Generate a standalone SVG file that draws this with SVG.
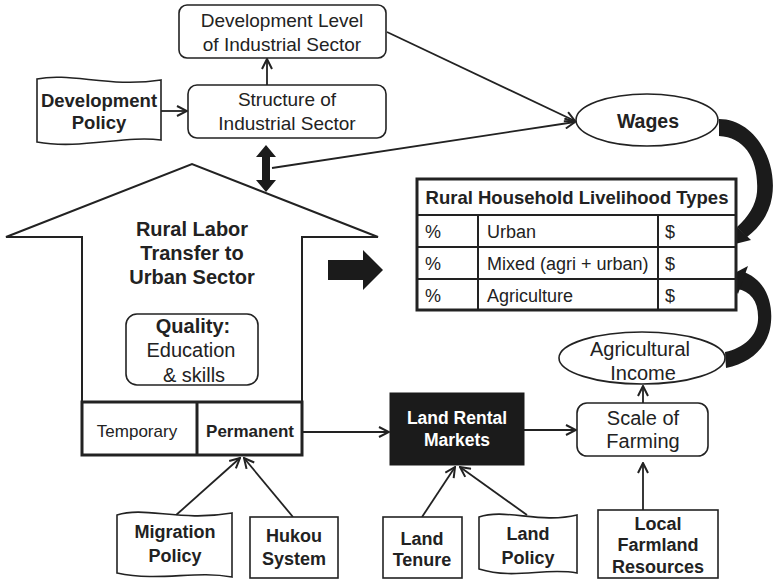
<svg xmlns="http://www.w3.org/2000/svg" width="774" height="580" viewBox="0 0 774 580">
  <defs>
    <style>
      .box { fill: #fff; stroke: #222; stroke-width: 1.6; }
      .thick { fill: #fff; stroke: #222; stroke-width: 3; }
      .line { fill: none; stroke: #222; stroke-width: 1.8; }
      .solid { fill: #1b1b1b; stroke: none; }
      text { font-family: "Liberation Sans", Arial, sans-serif; fill: #222; text-anchor: middle; }
      .reg { font-size: 19px; }
      .b { font-weight: bold; }
      .lbl { font-size: 18px; font-weight: bold; }
    </style>
    <marker id="open" viewBox="0 0 12 12" refX="11" refY="6" markerWidth="12" markerHeight="12" markerUnits="userSpaceOnUse" orient="auto">
      <path d="M1,1 L11,6 L1,11" fill="none" stroke="#222" stroke-width="2"/>
    </marker>
  </defs>

  <!-- connectors -->
  <g id="connectors">
    <line class="line" x1="267" y1="85" x2="267" y2="59" marker-end="url(#open)"/>
    <line class="line" x1="161" y1="111" x2="187" y2="111" marker-end="url(#open)"/>
    <line class="line" x1="387" y1="32" x2="575" y2="121" marker-end="url(#open)"/>
    <line class="line" x1="272" y1="168" x2="575" y2="122" marker-end="url(#open)"/>
    <line class="line" x1="303" y1="432" x2="389" y2="432" marker-end="url(#open)"/>
    <line class="line" x1="524" y1="430" x2="576" y2="430" marker-end="url(#open)"/>
    <line class="line" x1="643" y1="403" x2="643" y2="386" marker-end="url(#open)"/>
    <line class="line" x1="643" y1="510" x2="643" y2="463" marker-end="url(#open)"/>
    <line class="line" x1="175" y1="516" x2="240" y2="458" marker-end="url(#open)"/>
    <line class="line" x1="293" y1="517" x2="244" y2="458" marker-end="url(#open)"/>
    <line class="line" x1="422" y1="517" x2="455" y2="467" marker-end="url(#open)"/>
    <line class="line" x1="527" y1="515" x2="460" y2="467" marker-end="url(#open)"/>
    <!-- double-headed block arrow between industry and labor transfer -->
    <path class="solid" d="M266,145 L276,157 L270,157 L270,180 L276,180 L266,192 L256,180 L262,180 L262,157 L256,157 Z"/>
    <!-- block arrow toward livelihood table -->
    <path class="solid" d="M328,260 L363,260 L363,250 L383,270 L363,290 L363,280 L328,280 Z"/>
    <!-- curved arrow: wages to urban row -->
    <path class="solid" d="M719,119 C754,119 778,160 772,197 C769,215 759,228 747,237 L737,227 C748,217 756,205 757,192 C759,160 745,137 719,136 Z"/>
    <path class="solid" d="M727,246 L732,222 L751,240 Z"/>
    <!-- curved arrow: agricultural income to agriculture row -->
    <path class="solid" d="M741,271 C764,278 773,300 771,322 C769,346 752,363 726,368 L725,352 C744,348 757,336 758,320 C759,302 751,291 737,289 Z"/>
    <path class="solid" d="M727,277 L748,266 L738,294 Z"/>
  </g>

  <g id="dev-level">
    <rect class="box" x="179" y="5" width="207" height="53" rx="8"/>
    <text class="reg" x="282" y="27">Development Level</text>
    <text class="reg" x="282" y="51">of Industrial Sector</text>
  </g>

  <g id="structure">
    <rect class="box" x="188" y="85" width="198" height="53" rx="9"/>
    <text class="reg" x="287" y="106">Structure of</text>
    <text class="reg" x="287" y="130">Industrial Sector</text>
  </g>

  <g id="dev-policy">
    <path class="box" d="M37,79 C70,72 110,88 161,80 L161,140 C125,135 80,150 37,142 Z"/>
    <text class="lbl" x="99" y="107" style="font-size:18.5px">Development</text>
    <text class="lbl" x="99" y="129" style="font-size:18.5px">Policy</text>
  </g>

  <g id="wages">
    <ellipse class="box" cx="647" cy="120" rx="71" ry="26"/>
    <text class="b" x="648" y="128" style="font-size:19.5px">Wages</text>
  </g>

  <g id="labor-transfer">
    <path fill="#fff" stroke="#222" stroke-width="2" stroke-linejoin="miter" d="M82,402 L82,237 L6,237 L192,164 L378,237 L302,237 L302,402"/>
    <text class="b" x="192" y="236" style="font-size:20px">Rural Labor</text>
    <text class="b" x="192" y="260" style="font-size:20px">Transfer to</text>
    <text class="b" x="192" y="284" style="font-size:20px">Urban Sector</text>
  </g>

  <g id="quality">
    <rect class="box" x="126" y="314" width="132" height="71" rx="11"/>
    <text class="b" x="193" y="333" style="font-size:20px">Quality:</text>
    <text x="191" y="357" style="font-size:20px">Education</text>
    <text x="194" y="382" style="font-size:20px">&amp; skills</text>
  </g>

  <g id="transfer-type">
    <rect class="thick" x="82" y="402" width="220" height="53"/>
    <line x1="197" y1="402" x2="197" y2="455" stroke="#222" stroke-width="3"/>
    <text x="137" y="437" style="font-size:17px">Temporary</text>
    <text class="b" x="250" y="437" style="font-size:17px">Permanent</text>
  </g>

  <g id="livelihood-table">
    <rect class="thick" x="417" y="179" width="319" height="131"/>
    <g stroke="#222" stroke-width="2">
      <line x1="417" y1="215" x2="736" y2="215"/>
      <line x1="417" y1="247" x2="736" y2="247"/>
      <line x1="417" y1="279" x2="736" y2="279"/>
      <line x1="478" y1="215" x2="478" y2="310"/>
      <line x1="658" y1="215" x2="658" y2="310"/>
    </g>
    <text class="b" x="577" y="204" style="font-size:18.5px">Rural Household Livelihood Types</text>
    <g style="font-size:18px">
      <text x="433" y="238">%</text>
      <text x="487" y="238" style="text-anchor:start">Urban</text>
      <text x="670" y="238">$</text>
      <text x="433" y="270">%</text>
      <text x="487" y="270" style="text-anchor:start">Mixed (agri + urban)</text>
      <text x="670" y="270">$</text>
      <text x="433" y="302">%</text>
      <text x="487" y="302" style="text-anchor:start">Agriculture</text>
      <text x="670" y="302">$</text>
    </g>
  </g>

  <g id="land-rental">
    <rect x="390" y="393" width="134" height="72" fill="#1b1b1b" stroke="#1b1b1b" stroke-width="1"/>
    <text class="lbl" x="457" y="424" style="fill:#fff;font-size:17.5px">Land Rental</text>
    <text class="lbl" x="457" y="446" style="fill:#fff;font-size:17.5px">Markets</text>
  </g>

  <g id="scale-farming">
    <rect class="box" x="577" y="403" width="131" height="53" rx="10"/>
    <text x="643" y="425" style="font-size:20px">Scale of</text>
    <text x="643" y="448" style="font-size:20px">Farming</text>
  </g>

  <g id="ag-income">
    <ellipse class="box" cx="642" cy="358" rx="83" ry="26"/>
    <text x="640" y="356" style="font-size:20px">Agricultural</text>
    <text x="643" y="380" style="font-size:20px">Income</text>
  </g>

  <g id="migration-policy">
    <path class="box" d="M117,515 C145,506 180,522 232,513 L232,577 C195,570 160,582 117,573 Z"/>
    <text class="lbl" x="175" y="538">Migration</text>
    <text class="lbl" x="175" y="562">Policy</text>
  </g>

  <g id="hukou">
    <rect class="box" x="250" y="517" width="88" height="61"/>
    <text class="lbl" x="294" y="542">Hukou</text>
    <text class="lbl" x="294" y="565">System</text>
  </g>

  <g id="land-tenure">
    <rect class="box" x="383" y="517" width="79" height="61"/>
    <text class="lbl" x="422" y="545">Land</text>
    <text class="lbl" x="422" y="566">Tenure</text>
  </g>

  <g id="land-policy">
    <path class="box" d="M479,517 C505,508 540,524 577,515 L577,573 C545,567 515,580 479,569 Z"/>
    <text class="lbl" x="528" y="540">Land</text>
    <text class="lbl" x="528" y="564">Policy</text>
  </g>

  <g id="farmland-resources">
    <rect class="box" x="598" y="510" width="120" height="68"/>
    <text class="lbl" x="658" y="530">Local</text>
    <text class="lbl" x="658" y="551">Farmland</text>
    <text class="lbl" x="658" y="573">Resources</text>
  </g>
</svg>
